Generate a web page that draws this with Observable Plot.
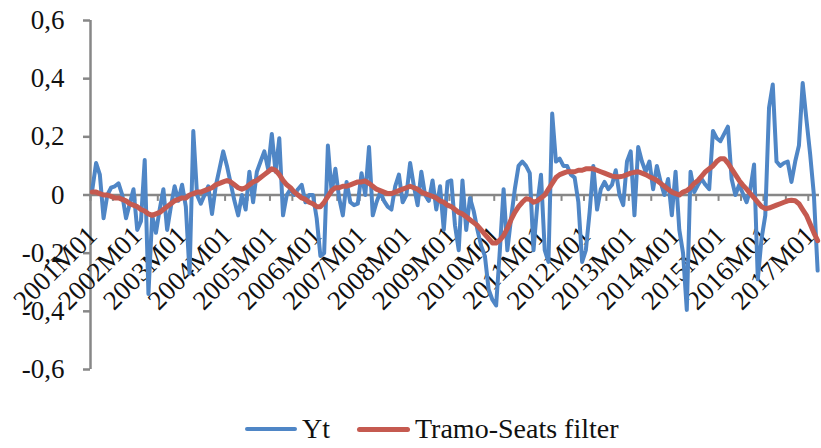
<!DOCTYPE html>
<html>
<head>
<meta charset="utf-8">
<script src="https://cdn.jsdelivr.net/npm/d3@7"></script>
<script src="https://cdn.jsdelivr.net/npm/@observablehq/plot@0.6"></script>
<style>
  html, body { margin: 0; padding: 0; background: #fff; }
  #chart svg { display: block; }
  #legend { height: 43px; box-sizing: border-box; padding-top: 5px; padding-left: 245px;
            display: flex; align-items: center; font-family: 'Liberation Serif', serif;
            font-size: 28px; color: #111; line-height: 1; }
  .sw { display: inline-block; border-radius: 3px; }
</style>
</head>
<body>
<div id="chart"></div>
<div id="legend">
  <span class="sw" style="width:52px;height:4px;background:#4F86C6"></span>
  <span style="margin-left:5px">Yt</span>
  <span class="sw" style="margin-left:27px;width:53px;height:5px;background:#C55A50"></span>
  <span style="margin-left:5px">Tramo-Seats filter</span>
</div>
<script>
const N = 195; // 2001M01 .. 2017M03
const months = Array.from({length: N}, (_, i) => `${2001 + Math.floor(i / 12)}M${String(i % 12 + 1).padStart(2, "0")}`);

const tickLabels = ["2001M01","2002M01","2003M01","2004M01","2005M01","2006M01","2007M01","2008M01","2009M01",
  "2010M01","2011M01","2012M01","2013M01","2014M01","2015M01","2016M01","2017M01"];

const yTicks = [-0.6, -0.4, -0.2, 0, 0.2, 0.4, 0.6];

const yt = [
  0.02, 0.11, 0.07, -0.08, 0.0, 0.025, 0.03, 0.04, 0.0, -0.08,
  -0.03, 0.02, -0.12, -0.09, 0.12, -0.34, -0.07, -0.13, -0.05, 0.02,
  -0.12, -0.04, 0.03, -0.02, 0.035, -0.04, -0.27, 0.22, 0.0, -0.03,
  0.0, 0.03, -0.065, 0.03, 0.09, 0.15, 0.1, 0.04, -0.02, -0.07,
  0.0, -0.05, 0.08, -0.025, 0.08, 0.115, 0.15, 0.09, 0.21, 0.08,
  0.195, -0.07, 0.0, 0.02, 0.0, 0.02, 0.035, -0.025, 0.0, 0.0,
  -0.08, -0.21, -0.2, 0.17, 0.01, 0.09, -0.01, -0.07, 0.045, -0.025,
  -0.035, -0.03, 0.075, 0.0, 0.165, -0.07, -0.025, 0.01, -0.02, -0.04,
  -0.05, 0.03, 0.07, -0.025, 0.0, 0.11, 0.03, -0.035, 0.08, 0.0,
  -0.02, 0.05, -0.05, 0.03, -0.12, 0.045, 0.05, -0.105, -0.19, 0.05,
  -0.12, -0.01, -0.055, -0.12, -0.175, -0.21, -0.325, -0.36, -0.38, -0.19,
  0.02, -0.19, -0.08, 0.02, 0.1, 0.115, 0.1, 0.075, -0.19, -0.035,
  0.07, -0.19, -0.23, 0.28, 0.115, 0.125, 0.1, 0.1, 0.07, 0.06,
  -0.025, -0.23, -0.19, -0.06, 0.1, -0.05, 0.02, 0.045, 0.02, 0.035,
  0.085, 0.0, -0.035, 0.115, 0.15, -0.07, 0.165, 0.115, 0.08, 0.115,
  0.02, 0.1, 0.045, 0.0, 0.055, -0.07, 0.08, -0.12, -0.2, -0.395,
  0.08, 0.01, 0.035, 0.055, 0.035, 0.02, 0.22, 0.195, 0.185, 0.21,
  0.235, 0.055, 0.0, 0.035, 0.005, -0.025, 0.02, 0.105, -0.29, -0.15,
  -0.07, 0.3, 0.38, 0.115, 0.1, 0.11, 0.115, 0.045, 0.115, 0.17,
  0.385, 0.26, 0.14, 0.0, -0.26
];

const tramoSeats = [
  0.01, 0.01, 0.005, 0.0, 0.0, -0.005, -0.01, -0.01, -0.015, -0.02,
  -0.03, -0.035, -0.04, -0.05, -0.055, -0.065, -0.07, -0.065, -0.06, -0.05,
  -0.04, -0.03, -0.02, -0.015, -0.01, -0.01, 0.0, 0.005, 0.01, 0.01,
  0.015, 0.02, 0.025, 0.035, 0.04, 0.045, 0.05, 0.045, 0.035, 0.025,
  0.02, 0.025, 0.035, 0.045, 0.05, 0.06, 0.07, 0.08, 0.09, 0.085,
  0.07, 0.05, 0.035, 0.025, 0.01, 0.0, -0.01, -0.015, -0.025, -0.03,
  -0.04, -0.04, -0.025, -0.005, 0.015, 0.025, 0.025, 0.03, 0.03, 0.035,
  0.04, 0.045, 0.045, 0.048, 0.04, 0.03, 0.02, 0.015, 0.01, 0.005,
  0.005, 0.01, 0.015, 0.02, 0.025, 0.03, 0.025, 0.02, 0.01, 0.005,
  0.0, -0.005, -0.01, -0.02, -0.025, -0.035, -0.04, -0.05, -0.06, -0.065,
  -0.075, -0.085, -0.095, -0.105, -0.12, -0.135, -0.15, -0.165, -0.165, -0.155,
  -0.14, -0.115, -0.085, -0.06, -0.04, -0.025, -0.013, -0.015, -0.025, -0.02,
  -0.01, 0.0, 0.02, 0.04, 0.06, 0.07, 0.075, 0.08, 0.08, 0.08,
  0.085, 0.085, 0.09, 0.09, 0.09, 0.085, 0.08, 0.075, 0.07, 0.065,
  0.063, 0.063, 0.065, 0.07, 0.075, 0.078, 0.08, 0.075, 0.07, 0.063,
  0.057, 0.05, 0.04, 0.03, 0.02, 0.01, 0.005, 0.0, 0.01, 0.015,
  0.025, 0.04, 0.05, 0.065, 0.08, 0.09, 0.1, 0.115, 0.125, 0.125,
  0.11, 0.09, 0.07, 0.05, 0.034, 0.02, 0.005, -0.01, -0.025, -0.04,
  -0.047, -0.045, -0.04, -0.035, -0.03, -0.025, -0.02, -0.018, -0.02, -0.03,
  -0.05, -0.07, -0.1, -0.13, -0.157
];

const data = months.map((m, i) => ({i, month: m, yt: yt[i], ts: tramoSeats[i]}));
const labelData = tickLabels.map(l => ({i: months.indexOf(l), label: l}));
const xTickPos = months.map((m, i) => i).filter(i => i % 6 === 0).map(i => i - 0.5);

const gray = "#878787";
const fmt = d => d === 0 ? "0" : d.toFixed(1).replace(".", ",");

const chart = Plot.plot({
  width: 821,
  height: 405,
  marginLeft: 90,
  marginRight: 2,
  marginTop: 20,
  marginBottom: 36,
  x: {domain: [-0.5, N - 0.5], axis: null},
  y: {domain: [-0.6, 0.6], axis: null},
  style: {fontFamily: "'Liberation Serif', serif", background: "#fff", overflow: "visible", color: "#111"},
  marks: [
    Plot.ruleX([-0.5], {stroke: gray, strokeWidth: 2.5}),
    Plot.axisY(yTicks, {anchor: "left", tickSize: 7, tickPadding: 19, tickFormat: fmt,
      stroke: gray, strokeWidth: 2.5, fill: "#111", fontSize: 27, label: null}),
    Plot.ruleY([0], {stroke: gray, strokeWidth: 2.5}),
    Plot.ruleX(xTickPos, {y1: 0, y2: -0.022, stroke: gray, strokeWidth: 2}),
    Plot.text(labelData, {x: "i", y: () => 0, text: "label", rotate: -45, textAnchor: "end",
      lineAnchor: "middle", dx: 0, dy: 36, fontSize: 27, fill: "#111"}),
    Plot.lineY(data, {x: "i", y: "yt", stroke: "#4F86C6", strokeWidth: 4, strokeLinejoin: "round", strokeLinecap: "round"}),
    Plot.lineY(data, {x: "i", y: "ts", stroke: "#C55A50", strokeWidth: 5, strokeLinejoin: "round", strokeLinecap: "round"})
  ]
});
document.getElementById("chart").appendChild(chart);
</script>
</body>
</html>
